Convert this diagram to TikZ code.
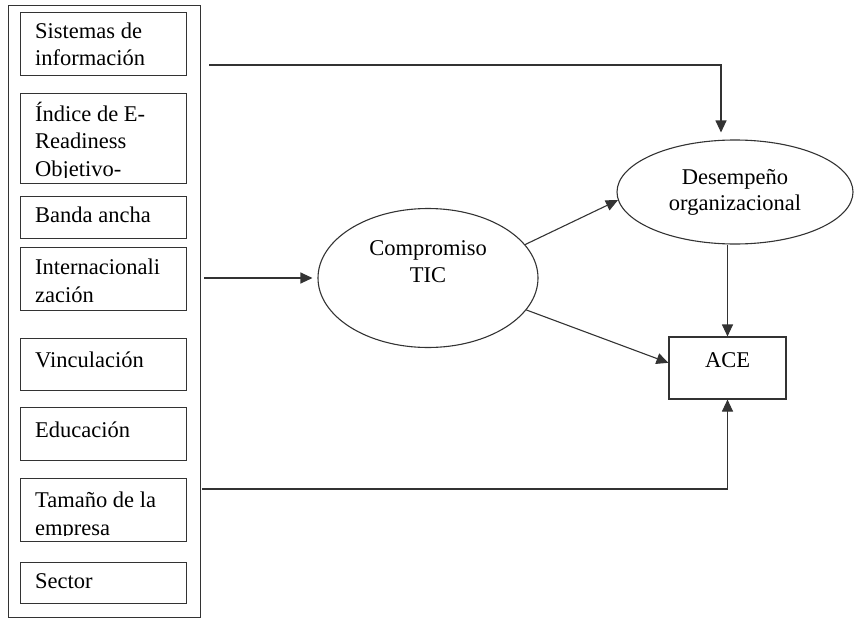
\documentclass[tikz,border=0pt]{standalone}
\usepackage{fontspec}
\setmainfont{Liberation Serif}
\usepackage{tikz}
\usetikzlibrary{arrows.meta,shapes.geometric}

\tikzset{
  link/.style={-{Triangle[length=12pt,width=11pt]}, line width=1.1pt, draw=black!80},
  itembox/.style={draw=black!80, line width=1.1pt, minimum width=166pt, inner sep=0pt, anchor=north west},
  itemtext/.style={anchor=base west, align=left, inner sep=0pt, font=\fontsize{22.5}{27.5}\selectfont},
  latent/.style={ellipse, draw=black!80, line width=1.1pt, inner sep=0pt},
}

\begin{document}
\begin{tikzpicture}[x=1pt,y=-1pt]
\useasboundingbox (0,0) rectangle (856,618);
\node[draw=black!80, line width=1.1pt, inner sep=0pt, anchor=north west, minimum width=192pt, minimum height=612pt] (vars) at (8,5) {};

\node[itembox, minimum height=63pt] (sis) at (20,12) {};
\node[itembox, minimum height=90pt] (ind) at (20,93) {};
\node[itembox, minimum height=42pt] (ban) at (20,196) {};
\node[itembox, minimum height=63pt] (int) at (20,247) {};
\node[itembox, minimum height=52pt] (vin) at (20,338) {};
\node[itembox, minimum height=53pt] (edu) at (20,407) {};
\node[itembox, minimum height=63pt] (tam) at (20,478) {};
\node[itembox, minimum height=41pt] (sec) at (20,562) {};

\node[itemtext] (sistxt) at (35,65.5) {Sistemas de\\información};
\begin{scope}
\clip (ind.north west) rectangle ([yshift=6.5pt]ind.south east);
\node[itemtext] (indtxt) at (35,176) {Índice de E-\\Readiness\\Objetivo-};
\end{scope}
\node[itemtext] (bantxt) at (35,222) {Banda ancha};
\node[itemtext] (inttxt) at (35,302) {Internacionali\\zación};
\node[itemtext] (vintxt) at (35,367) {Vinculación};
\node[itemtext] (edutxt) at (35,437) {Educación};
\begin{scope}
\clip (tam.north west) rectangle ([yshift=6.5pt]tam.south east);
\node[itemtext] (tamtxt) at (35,535) {Tamaño de la\\empresa};
\end{scope}
\node[itemtext] (sectxt) at (35,588) {Sector};

\node[latent, minimum width=220pt, minimum height=139pt] (comp) at (428,278) {};
\node[itemtext, anchor=base, align=center, font=\fontsize{22.5}{27}\selectfont] (comptxt) at (428,282) {Compromiso\\TIC};
\node[latent, minimum width=236pt, minimum height=104pt, font=\fontsize{22.5}{26}\selectfont, align=center] (desemp) at (735,192) {Desempeño\\organizacional};
\node[draw=black!80, line width=1.1pt, minimum width=117pt, minimum height=62pt, text height=10pt, text depth=12pt, font=\fontsize{22.5}{27}\selectfont] (ace) at (727.5,368) {ACE};

\coordinate (sisout) at (209,65);
\coordinate (intout) at (204,278);
\coordinate (tamout) at (202,489);
\draw[link, shorten >=7pt] (sisout) -| ([xshift=-14pt]desemp.north);
\draw[link, shorten >=5pt] (intout) -- (comp.west);
\draw[link] (comp.19.5) -- (desemp.184);
\draw[link] (comp.-18.4) -- (ace.175);
\draw[link] (ace.north |- desemp.south) -- (ace.north);
\draw[link] (tamout) -| (ace.south);
\end{tikzpicture}
\end{document}
